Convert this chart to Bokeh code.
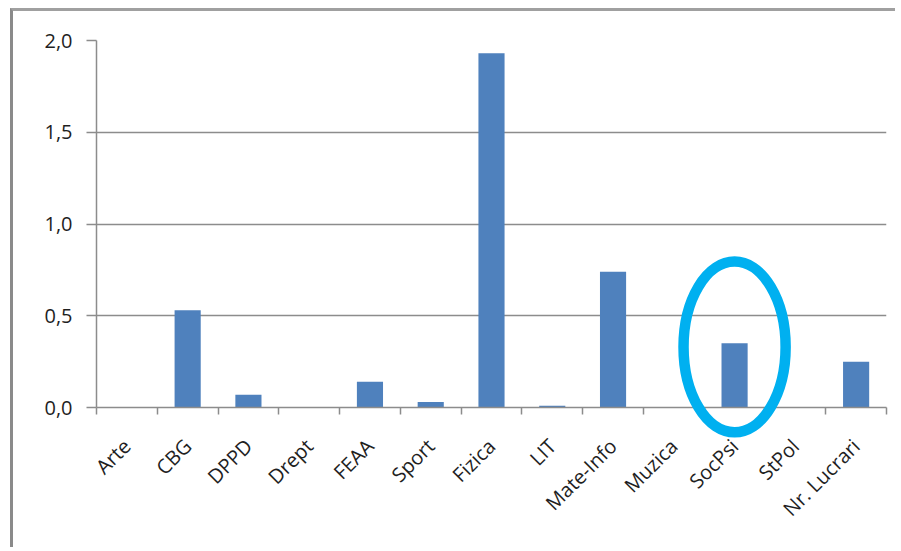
from math import pi
from bokeh.plotting import figure
from bokeh.models import FixedTicker, CustomJSTickFormatter, Range1d
from bokeh.embed import file_html
from bokeh.resources import INLINE

categories = ["Arte", "CBG", "DPPD", "Drept", "FEAA", "Sport", "Fizica",
              "LIT", "Mate-Info", "Muzica", "SocPsi", "StPol", "Nr. Lucrari"]
values = [0.0, 0.53, 0.07, 0.0, 0.14, 0.03, 1.93, 0.01, 0.74, 0.0, 0.35, 0.0, 0.25]
y_ticks = [0.0, 0.5, 1.0, 1.5, 2.0]
highlight = "SocPsi"

n = len(categories)
xs = [i + 0.5 for i in range(n)]

FONT = "Open Sans"
GRAY = "#8c8c8c"

p = figure(width=885, height=539, output_backend="svg", toolbar_location=None,
           x_range=Range1d(0, n), y_range=Range1d(0, y_ticks[-1]),
           min_border_left=83, min_border_right=12, min_border_top=29,
           min_border_bottom=143,
           styles={"border-left": "3px solid #8a8a8a", "border-top": "3px solid #a0a0a0",
                   "margin-left": "10px", "margin-top": "8px"})
p.outline_line_color = None
p.background_fill_color = "white"
p.border_fill_color = "white"

p.vbar(x=xs, top=values, width=0.43, fill_color="#4F81BD", line_color=None)

# highlight ellipse (drawn above the frame so that it is not clipped)
hi = categories.index(highlight)
p.ellipse(x=[xs[hi]], y=[values[hi] - 0.02], width=1.68, height=0.93,
          fill_color=None, line_color="#00B0F0", line_width=10.5, level="overlay")

# y axis
p.yaxis.ticker = FixedTicker(ticks=y_ticks)
p.yaxis.formatter = CustomJSTickFormatter(code="return tick.toFixed(1).replace('.', ',');")
p.yaxis.axis_line_color = GRAY
p.yaxis.axis_line_width = 1.5
p.yaxis.major_tick_line_color = GRAY
p.yaxis.major_tick_line_width = 1.5
p.yaxis.major_tick_out = 10
p.yaxis.major_tick_in = 0
p.yaxis.minor_tick_line_color = None
p.yaxis.major_label_standoff = 14
p.yaxis.major_label_text_font = FONT
p.yaxis.major_label_text_font_size = "20px"
p.yaxis.major_label_text_color = "#1f1f1f"

p.ygrid.ticker = FixedTicker(ticks=y_ticks)
p.ygrid.grid_line_color = GRAY
p.ygrid.grid_line_width = 1.5
p.xgrid.grid_line_color = None

# x axis
p.xaxis.ticker = FixedTicker(ticks=xs, minor_ticks=list(range(n + 1)))
p.xaxis.formatter = CustomJSTickFormatter(args=dict(names=categories),
                                          code="return names[Math.floor(tick)];")
p.xaxis.axis_line_color = GRAY
p.xaxis.axis_line_width = 1.5
p.xaxis.major_tick_line_color = None
p.xaxis.major_tick_out = 0
p.xaxis.major_tick_in = 0
p.xaxis.minor_tick_line_color = GRAY
p.xaxis.minor_tick_line_width = 1.5
p.xaxis.minor_tick_out = 7
p.xaxis.minor_tick_in = 0
p.xaxis.major_label_orientation = pi / 4
p.xaxis.major_label_standoff = 28
p.xaxis.major_label_text_font = FONT
p.xaxis.major_label_text_font_size = "20px"
p.xaxis.major_label_text_color = "#1f1f1f"

open("out.html", "w").write(file_html(p, INLINE))
